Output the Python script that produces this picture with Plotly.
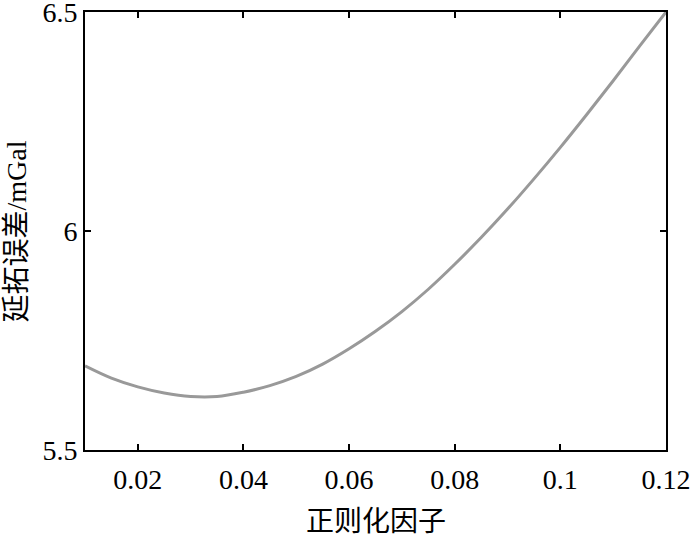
import plotly.graph_objects as go

# Data
reg_factor = [0.010, 0.015, 0.020, 0.025, 0.030, 0.035, 0.040, 0.045, 0.050, 0.055,
              0.060, 0.065, 0.070, 0.075, 0.080, 0.085, 0.090, 0.095, 0.100, 0.105,
              0.110, 0.115, 0.120]
error_mgal = [5.692, 5.664, 5.644, 5.630, 5.622, 5.622, 5.632, 5.647, 5.668, 5.696,
              5.731, 5.771, 5.816, 5.867, 5.924, 5.985, 6.050, 6.119, 6.191, 6.266,
              6.343, 6.422, 6.500]
x_ticks = [0.02, 0.04, 0.06, 0.08, 0.10, 0.12]
x_tick_labels = ["0.02", "0.04", "0.06", "0.08", "0.1", "0.12"]
y_ticks = [5.5, 6.0, 6.5]
y_tick_labels = ["5.5", "6", "6.5"]
x_title = "正则化因子"
y_title = "延拓误差/mGal"

FONT = "Liberation Serif, Times New Roman, Noto Sans CJK SC, serif"

fig = go.Figure()
fig.add_trace(go.Scatter(
    x=reg_factor, y=error_mgal, mode="lines",
    line=dict(color="#999999", width=3, shape="spline", smoothing=1.0),
    showlegend=False, hoverinfo="skip", cliponaxis=False,
))

axis_common = dict(
    showline=True, linecolor="black", linewidth=2, mirror="ticks",
    ticks="inside", ticklen=6, tickwidth=2, tickcolor="black",
    showgrid=False, zeroline=False, automargin=False,
    ticklabeloverflow="allow",
    tickfont=dict(family=FONT, size=28, color="black"),
)

fig.update_layout(
    width=700, height=540,
    margin=dict(l=85, r=34, t=12, b=90),
    paper_bgcolor="white", plot_bgcolor="white",
    xaxis=dict(range=[0.01, 0.12], tickvals=x_ticks, ticktext=x_tick_labels,
               ticklabelstandoff=3, **axis_common),
    yaxis=dict(range=[5.5, 6.5], tickvals=y_ticks, ticktext=y_tick_labels,
               **axis_common),
    annotations=[
        dict(text=x_title, xref="paper", yref="paper", x=0.5, y=-0.163,
             xanchor="center", yanchor="middle", showarrow=False,
             font=dict(family=FONT, size=28, color="black")),
        dict(text=y_title, xref="paper", yref="paper", x=-0.118, y=0.5,
             xanchor="center", yanchor="middle", showarrow=False, textangle=-90,
             font=dict(family=FONT, size=28, color="black")),
    ],
)

fig.write_html("out.html", config={"displayModeBar": False},
               post_script="document.body.style.margin='0';")
